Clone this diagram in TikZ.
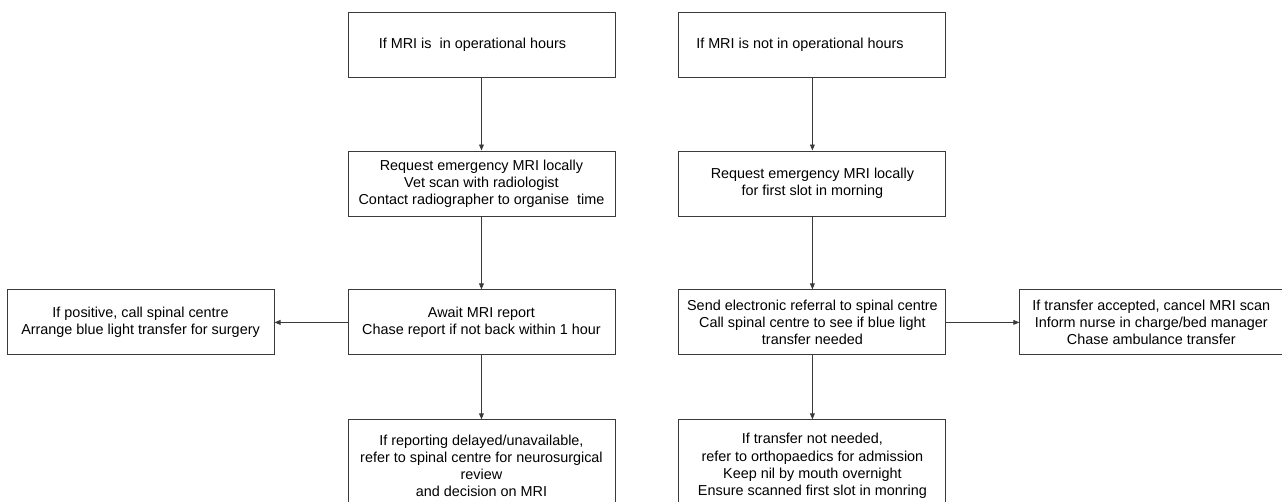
\documentclass[tikz,border=0pt]{standalone}
\usepackage{fontspec}
\setmainfont{Liberation Sans}
\usetikzlibrary{arrows.meta,positioning}
\definecolor{ink}{HTML}{3A3A3A}
\tikzset{
  box/.style={rectangle, draw=ink, fill=white, line width=0.7pt, align=center, inner sep=2pt,
              minimum width=200.25pt, minimum height=48.75pt, font=\fontsize{10.8}{12.8}\selectfont},
  tallbox/.style={box, minimum height=69pt},
  flow/.style={-{Triangle[length=4.5pt, width=3.6pt]}, draw=ink, line width=0.7pt}
}

\begin{document}
\begin{tikzpicture}[node distance=54.75pt and 54.75pt]
  \useasboundingbox (0,0) rectangle (961.5pt,-375.75pt);
  \node[box] (in) at (361.1pt,-33.4pt) {If MRI is\ \ in operational hours\hspace*{13.5pt}};
  \node[box, right=47.25pt of in] (out) {If MRI is not in operational hours\hspace*{18.75pt}};
  \node[box, below=of in] (req) {Request emergency MRI locally\\Vet scan with radiologist\\Contact radiographer to organise\ \ time};
  \node[box, below=of out] (reqm) {Request emergency MRI locally\\for first slot in morning};
  \node[box, below=of req] (await) {Await MRI report\\Chase report if not back within 1 hour};
  \node[box, below=of reqm] (send) {Send electronic referral to spinal centre\\Call spinal centre to see if blue light\\transfer needed};
  \node[box, left=of await] (pos) {If positive, call spinal centre\\Arrange blue light transfer for surgery};
  \node[box, right=of send, minimum width=197.25pt] (acc) {If transfer accepted, cancel MRI scan\\Inform nurse in charge/bed manager\\Chase ambulance transfer};
  \node[tallbox, below=48pt of await] (delay) {If reporting delayed/unavailable,\\refer to spinal centre for neurosurgical\\review\\and decision on MRI};
  \node[tallbox, below=48pt of send] (notneed) {If transfer not needed,\\refer to orthopaedics for admission\\Keep nil by mouth overnight\\Ensure scanned first slot in monring};
  \draw[flow] (in) -- (req); \draw[flow] (req) -- (await); \draw[flow] (await) -- (delay);
  \draw[flow] (await) -- (pos);
  \draw[flow] (out) -- (reqm); \draw[flow] (reqm) -- (send); \draw[flow] (send) -- (notneed);
  \draw[flow] (send) -- (acc);
\end{tikzpicture}
\end{document}
